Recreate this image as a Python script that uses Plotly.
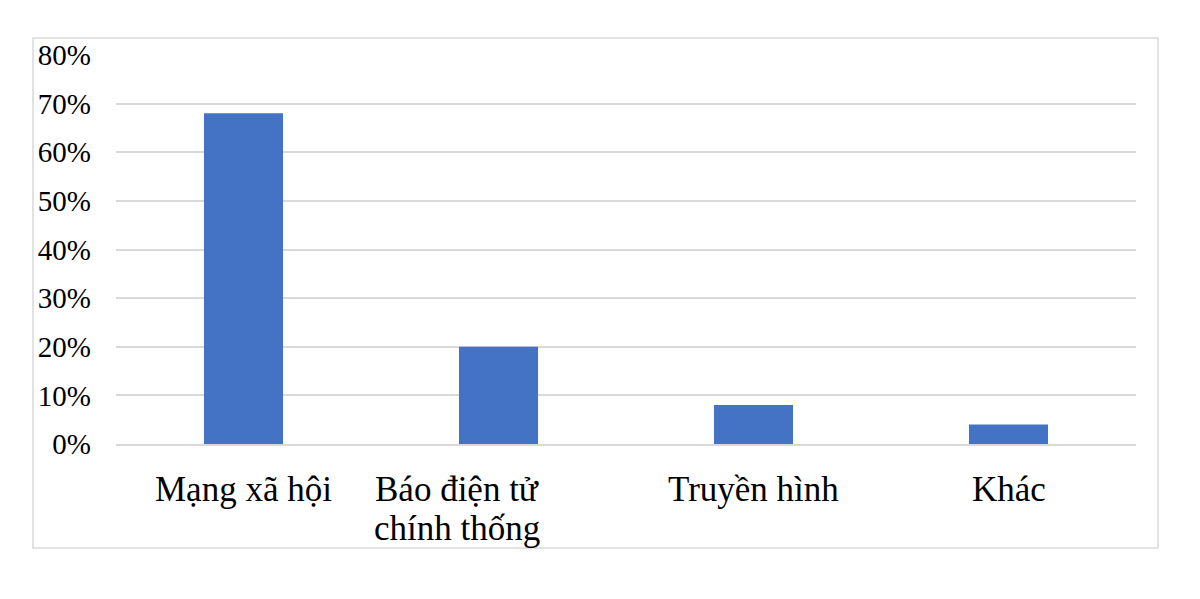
import plotly.graph_objects as go

# Data
categories = ["Mạng xã hội", "Báo điện tử<br>chính thống", "Truyền hình", "Khác"]
shares = [0.68, 0.20, 0.08, 0.04]
tick_vals = [0, 0.1, 0.2, 0.3, 0.4, 0.5, 0.6, 0.7, 0.8]

W, H = 1200, 599
OFF = 8  # page body margin shifts the figure
L, R, T, B = 116 - OFF, 64 + OFF, 55 - OFF, 155 + OFF

fig = go.Figure(
    go.Bar(
        x=categories,
        y=shares,
        marker=dict(color="#4472C4", line=dict(width=0)),
        width=0.31,
    )
)

fig.update_layout(
    width=W,
    height=H,
    margin=dict(l=L, r=R, t=T, b=B),
    paper_bgcolor="white",
    plot_bgcolor="white",
    font=dict(family="Liberation Serif", color="#000000"),
    showlegend=False,
)

fig.update_yaxes(
    range=[0, 0.8],
    tickvals=tick_vals,
    tickformat=".0%",
    tickfont=dict(size=29),
    showgrid=True,
    gridcolor="#d9d9d9",
    gridwidth=1.5,
    zeroline=False,
    showline=False,
    ticks="",
    ticklabelstandoff=24,
)

fig.update_xaxes(
    showticklabels=False,
    showline=True,
    linecolor="#d9d9d9",
    linewidth=1.5,
    ticks="",
)

# Category labels as annotations (wrapped label sits left of its bar, as in the original)
for cat in categories:
    lines = cat.split("<br>")
    dx = -42 if len(lines) > 1 else 0
    for i, line in enumerate(lines):
        fig.add_annotation(
            x=cat, y=0, xref="x", yref="y",
            text=line, showarrow=False,
            xanchor="center", yanchor="top",
            xshift=dx, yshift=-24 - i * 39,
            font=dict(size=35),
        )

# Outer chart border
pw = W - L - R
ph = H - T - B
fig.add_shape(
    type="rect",
    xref="paper", yref="paper",
    x0=(33 - OFF - L) / pw, x1=(1158 - OFF - L) / pw,
    y0=(H - B - (548 - OFF)) / ph, y1=(H - B - (38 - OFF)) / ph,
    line=dict(color="#d9d9d9", width=1.5),
    fillcolor="rgba(0,0,0,0)",
    layer="below",
)

fig.write_html("out.html")
